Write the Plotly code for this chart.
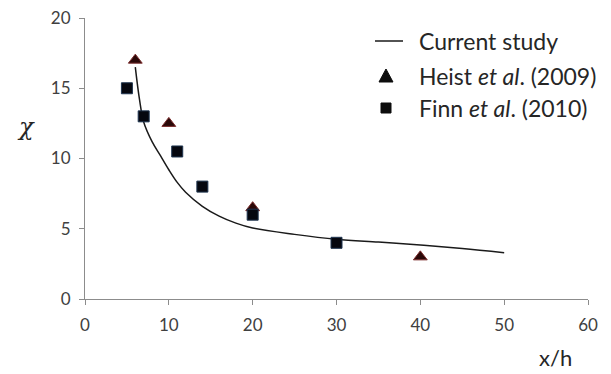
import plotly.graph_objects as go

# Model curve (current study)
study_x = [6, 6.5, 7, 8, 9, 10, 11, 12, 14, 16, 18, 20, 25, 30, 35, 40, 45, 50]
study_y = [16.5, 14.2, 12.6, 11.2, 10.2, 9.2, 8.3, 7.6, 6.6, 5.9, 5.4, 5.05, 4.6, 4.25, 4.05, 3.85, 3.6, 3.3]

# Heist et al. (2009)
heist_x = [6, 10, 20, 40]
heist_y = [17, 12.5, 6.5, 3]

# Finn et al. (2010)
finn_x = [5, 7, 11, 14, 20, 30]
finn_y = [15, 13, 10.5, 8, 6, 4]

x_ticks = [0, 10, 20, 30, 40, 50, 60]
y_ticks = [0, 5, 10, 15, 20]

series_names = ["Current study", "Heist <i>et al</i>. (2009)", "Finn <i>et al</i>. (2010)"]

FONT = "Lato, 'Open Sans', sans-serif"
W, H = 611, 374
ML, MR, MT, MB = 85, 23, 18, 75
PW, PH = W - ML - MR, H - MT - MB

LINE_STYLE = dict(color="#1a1a1a", width=1.5)
TRI_STYLE = dict(color="#2a0808", line=dict(color="#7a2a2a", width=1))
SQ_STYLE = dict(color="#05070f", line=dict(color="#1f3550", width=1))


def px(xp):
    return (xp - ML) / PW


def py(yp):
    return (H - MB - yp) / PH


fig = go.Figure()
fig.add_trace(go.Scatter(
    x=study_x, y=study_y, mode="lines", name=series_names[0],
    line=dict(shape="spline", **LINE_STYLE),
))
fig.add_trace(go.Scatter(
    x=heist_x, y=heist_y, mode="markers", name=series_names[1],
    marker=dict(symbol="triangle-up", size=12, **TRI_STYLE),
))
fig.add_trace(go.Scatter(
    x=finn_x, y=finn_y, mode="markers", name=series_names[2],
    marker=dict(symbol="square", size=11, **SQ_STYLE),
))

axis_common = dict(
    showgrid=False, zeroline=False, showline=True, linecolor="#8c8c8c", linewidth=1,
    ticks="outside", ticklen=5, tickcolor="#8c8c8c", automargin=False,
    tickfont=dict(family=FONT, size=17, color="#404040"),
)
fig.update_xaxes(range=[0, 60], tickvals=x_ticks, ticklabelstandoff=6, **axis_common)
fig.update_yaxes(range=[0, 20], tickvals=y_ticks, ticklabelstandoff=5, **axis_common)

# Axis titles
fig.add_annotation(xref="paper", yref="paper", x=px(26), y=py(127), text="<i>χ</i>",
                   xanchor="center", yanchor="middle", showarrow=False,
                   font=dict(family="'DejaVu Serif', serif", size=24, color="#262626"))
fig.add_annotation(xref="paper", yref="paper", x=px(555), y=py(357), text="x/h",
                   xanchor="center", yanchor="middle", showarrow=False,
                   font=dict(family=FONT, size=22, color="#262626"))

# Legend drawn inside the plot area: keys as shapes, labels as annotations
rows = [41, 76, 108]
key_cx = 386
text_x = 417
for name, yrow in zip(series_names, rows):
    fig.add_annotation(xref="paper", yref="paper", x=px(text_x), y=py(yrow),
                       xanchor="left", yanchor="middle", text=name, showarrow=False,
                       font=dict(family=FONT, size=23, color="#262626"))

fig.add_shape(type="line", xref="paper", yref="paper",
              x0=px(375), x1=px(403), y0=py(rows[0]), y1=py(rows[0]), line=LINE_STYLE)

t = rows[1]
tri_path = "M {:.4f},{:.4f} L {:.4f},{:.4f} L {:.4f},{:.4f} Z".format(
    px(key_cx - 7), py(t + 6), px(key_cx + 7), py(t + 6), px(key_cx), py(t - 7))
fig.add_shape(type="path", xref="paper", yref="paper", path=tri_path,
              fillcolor="#0d0d0d", line=dict(color="#0d0d0d", width=1))

s = rows[2]
fig.add_shape(type="rect", xref="paper", yref="paper",
              x0=px(key_cx - 5), x1=px(key_cx + 5), y0=py(s + 5), y1=py(s - 5),
              fillcolor="#0d0d0d", line=dict(color="#0d0d0d", width=1))

fig.update_layout(
    width=W, height=H,
    margin=dict(l=ML, r=MR, t=MT, b=MB),
    paper_bgcolor="white", plot_bgcolor="white",
    showlegend=False,
)

fig.write_html("out.html")
